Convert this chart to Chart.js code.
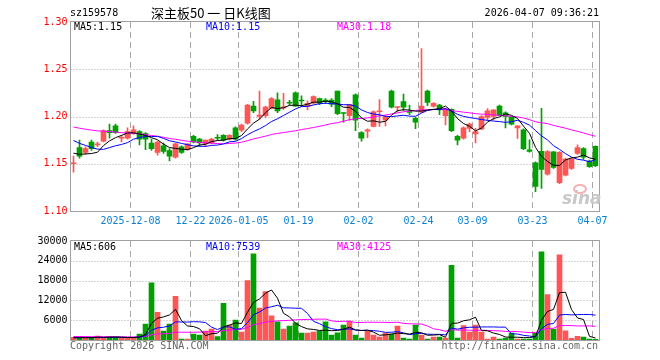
<!DOCTYPE html>
<html>
<head>
<meta charset="utf-8">
<title>sz159578 日K线图</title>
<script src="https://cdn.jsdelivr.net/npm/chart.js@4.4.1/dist/chart.umd.min.js"></script>
<style>
  html, body { margin: 0; padding: 0; background: #fff; }
  #wrap { position: relative; width: 660px; height: 360px; }
  #kline { position: absolute; left: 0; top: 0; }
  #volume { position: absolute; left: 0; top: 232px; }
</style>
</head>
<body>
<div id="wrap">
  <canvas id="kline" width="660" height="232"></canvas>
  <canvas id="volume" width="660" height="128"></canvas>
</div>
<script>
// trading days shown on the chart
const dates = [
  '2025-11-24', '2025-11-25', '2025-11-26', '2025-11-27', '2025-11-28',
  '2025-12-01', '2025-12-02', '2025-12-03', '2025-12-04', '2025-12-05',
  '2025-12-08', '2025-12-09', '2025-12-10', '2025-12-11', '2025-12-12',
  '2025-12-15', '2025-12-16', '2025-12-17', '2025-12-18', '2025-12-19',
  '2025-12-22', '2025-12-23', '2025-12-24', '2025-12-25', '2025-12-26',
  '2025-12-29', '2025-12-30', '2025-12-31',
  '2026-01-05', '2026-01-06', '2026-01-07', '2026-01-08', '2026-01-09',
  '2026-01-12', '2026-01-13', '2026-01-14', '2026-01-15', '2026-01-16',
  '2026-01-19', '2026-01-20', '2026-01-21', '2026-01-22', '2026-01-23',
  '2026-01-26', '2026-01-27', '2026-01-28', '2026-01-29', '2026-01-30',
  '2026-02-02', '2026-02-03', '2026-02-04', '2026-02-05', '2026-02-06',
  '2026-02-09', '2026-02-10', '2026-02-11', '2026-02-12', '2026-02-13',
  '2026-02-24', '2026-02-25', '2026-02-26', '2026-02-27',
  '2026-03-02', '2026-03-03', '2026-03-04', '2026-03-05', '2026-03-06',
  '2026-03-09', '2026-03-10', '2026-03-11', '2026-03-12', '2026-03-13',
  '2026-03-16', '2026-03-17', '2026-03-18', '2026-03-19', '2026-03-20',
  '2026-03-23', '2026-03-24', '2026-03-25', '2026-03-26', '2026-03-27',
  '2026-03-30', '2026-03-31', '2026-04-01', '2026-04-02', '2026-04-03',
  '2026-04-07'
];

const opens = [
  1.150, 1.167, 1.162, 1.173, 1.170, 1.174, 1.185, 1.190, 1.177, 1.177,
  1.182, 1.184, 1.182, 1.172, 1.162, 1.169, 1.164, 1.157, 1.168, 1.165,
  1.179, 1.176, 1.171, 1.172, 1.1775, 1.180, 1.176, 1.188, 1.1855, 1.193,
  1.211, 1.200, 1.201, 1.2086, 1.2176, 1.209, 1.2145, 1.225, 1.2167, 1.2107,
  1.214, 1.219, 1.2166, 1.2175, 1.227, 1.2035, 1.201, 1.223, 1.183, 1.1846,
  1.1895, 1.205, 1.196, 1.227, 1.2095, 1.2157, 1.2047, 1.198, 1.2045, 1.227,
  1.211, 1.212, 1.201, 1.2075, 1.179, 1.177, 1.1875, 1.1816, 1.1865, 1.199,
  1.200, 1.211, 1.204, 1.1997, 1.188, 1.186, 1.1646, 1.151, 1.1632, 1.139,
  1.1625, 1.130, 1.138, 1.145, 1.161, 1.166, 1.1528, 1.1684
];
const highs = [
  1.158, 1.175, 1.168, 1.175, 1.173, 1.186, 1.192, 1.192, 1.180, 1.188,
  1.190, 1.185, 1.183, 1.176, 1.174, 1.172, 1.166, 1.172, 1.169, 1.171,
  1.180, 1.177, 1.175, 1.177, 1.181, 1.181, 1.181, 1.189, 1.192, 1.213,
  1.216, 1.227, 1.211, 1.220, 1.225, 1.2245, 1.217, 1.226, 1.222, 1.2165,
  1.222, 1.2195, 1.219, 1.219, 1.227, 1.2038, 1.213, 1.224, 1.184, 1.187,
  1.206, 1.2178, 1.201, 1.228, 1.2105, 1.2238, 1.2122, 1.199, 1.272, 1.228,
  1.2147, 1.213, 1.209, 1.208, 1.180, 1.189, 1.193, 1.1875, 1.201, 1.2083,
  1.207, 1.212, 1.205, 1.200, 1.190, 1.187, 1.1753, 1.152, 1.2087, 1.164,
  1.163, 1.163, 1.156, 1.156, 1.170, 1.167, 1.154, 1.169
];
const lows = [
  1.141, 1.156, 1.160, 1.164, 1.168, 1.173, 1.177, 1.182, 1.173, 1.176,
  1.181, 1.170, 1.165, 1.164, 1.159, 1.161, 1.153, 1.156, 1.161, 1.164,
  1.172, 1.169, 1.168, 1.171, 1.175, 1.174, 1.175, 1.175, 1.184, 1.192,
  1.204, 1.197, 1.199, 1.208, 1.204, 1.2075, 1.212, 1.211, 1.211, 1.207,
  1.213, 1.2125, 1.2135, 1.2105, 1.202, 1.194, 1.1958, 1.185, 1.174, 1.1776,
  1.189, 1.1895, 1.190, 1.209, 1.2045, 1.2063, 1.202, 1.187, 1.204, 1.2115,
  1.210, 1.202, 1.191, 1.184, 1.170, 1.176, 1.184, 1.172, 1.186, 1.196,
  1.1965, 1.201, 1.188, 1.191, 1.1767, 1.165, 1.1622, 1.1205, 1.124, 1.138,
  1.145, 1.129, 1.137, 1.144, 1.160, 1.1545, 1.146, 1.147
];
const closes = [
  1.151, 1.158, 1.166, 1.166, 1.171, 1.185, 1.183, 1.183, 1.178, 1.184,
  1.186, 1.176, 1.176, 1.166, 1.173, 1.163, 1.158, 1.171, 1.162, 1.171,
  1.173, 1.172, 1.175, 1.176, 1.177, 1.175, 1.180, 1.176, 1.191, 1.212,
  1.206, 1.2014, 1.210, 1.219, 1.206, 1.2103, 1.214, 1.211, 1.2164, 1.214,
  1.221, 1.214, 1.2162, 1.213, 1.203, 1.2032, 1.213, 1.196, 1.177, 1.186,
  1.205, 1.2056, 1.200, 1.210, 1.2098, 1.210, 1.2043, 1.194, 1.211, 1.215,
  1.214, 1.207, 1.208, 1.185, 1.175, 1.188, 1.192, 1.184, 1.200, 1.206,
  1.207, 1.201, 1.200, 1.192, 1.190, 1.166, 1.163, 1.126, 1.144, 1.163,
  1.146, 1.162, 1.155, 1.155, 1.167, 1.157, 1.147, 1.148
];

// moving average lines
const ma5 = [
  1.1612, 1.1600, 1.1604, 1.1608, 1.1622, 1.1692, 1.1742, 1.1776, 1.1800, 1.1826,
  1.1828, 1.1814, 1.1800, 1.1776, 1.1754, 1.1708, 1.1672, 1.1662, 1.1654, 1.1650,
  1.1670, 1.1698, 1.1706, 1.1734, 1.1746, 1.1750, 1.1766, 1.1768, 1.1798, 1.1868,
  1.1930, 1.1972, 1.2040, 1.2096, 1.2084, 1.2092, 1.2118, 1.2120, 1.2114, 1.2130,
  1.2152, 1.2152, 1.2162, 1.2156, 1.2134, 1.2098, 1.2096, 1.2056, 1.1984, 1.1950,
  1.1954, 1.1940, 1.1948, 1.2014, 1.2062, 1.2072, 1.2068, 1.2056, 1.2058, 1.2068,
  1.2076, 1.2082, 1.2110, 1.2058, 1.1978, 1.1926, 1.1896, 1.1848, 1.1878, 1.1940,
  1.1978, 1.1996, 1.2028, 1.2012, 1.1980, 1.1898, 1.1822, 1.1674, 1.1578, 1.1524,
  1.1484, 1.1482, 1.1540, 1.1562, 1.1570, 1.1592, 1.1562, 1.1548
];
const ma10 = [
  1.1746, 1.1716, 1.1694, 1.1672, 1.1655, 1.1652, 1.1671, 1.1690, 1.1704, 1.1724,
  1.1760, 1.1778, 1.1788, 1.1788, 1.1790, 1.1768, 1.1743, 1.1731, 1.1715, 1.1702,
  1.1689, 1.1685, 1.1684, 1.1694, 1.1698, 1.1710, 1.1732, 1.1737, 1.1766, 1.1807,
  1.1840, 1.1869, 1.1904, 1.1947, 1.1976, 1.2011, 1.2045, 1.2080, 1.2105, 1.2107,
  1.2122, 1.2135, 1.2141, 1.2135, 1.2132, 1.2125, 1.2124, 1.2109, 1.2070, 1.2042,
  1.2026, 1.2018, 1.2002, 1.1999, 1.2006, 1.2013, 1.2004, 1.2002, 1.2036, 1.2065,
  1.2074, 1.2075, 1.2083, 1.2058, 1.2023, 1.2001, 1.1989, 1.1979, 1.1968, 1.1959,
  1.1952, 1.1946, 1.1938, 1.1945, 1.1960, 1.1938, 1.1909, 1.1851, 1.1795, 1.1752,
  1.1691, 1.1652, 1.1607, 1.1570, 1.1547, 1.1538, 1.1522, 1.1544
];
const ma30 = [
  1.1889, 1.1876, 1.1866, 1.1856, 1.1848, 1.1844, 1.1840, 1.1835, 1.1829, 1.1825,
  1.1822, 1.1815, 1.1809, 1.1799, 1.1791, 1.1780, 1.1767, 1.1759, 1.1748, 1.1739,
  1.1732, 1.1726, 1.1722, 1.1718, 1.1714, 1.1710, 1.1715, 1.1719, 1.1728, 1.1744,
  1.1763, 1.1777, 1.1792, 1.1810, 1.1821, 1.1830, 1.1840, 1.1849, 1.1862, 1.1872,
  1.1884, 1.1896, 1.1910, 1.1925, 1.1935, 1.1949, 1.1967, 1.1975, 1.1980, 1.1985,
  1.1996, 1.2007, 1.2016, 1.2027, 1.2038, 1.2050, 1.2058, 1.2064, 1.2070, 1.2071,
  1.2074, 1.2076, 1.2075, 1.2064, 1.2054, 1.2046, 1.2039, 1.2030, 1.2025, 1.2022,
  1.2017, 1.2013, 1.2008, 1.2001, 1.1996, 1.1984, 1.1967, 1.1944, 1.1933, 1.1925,
  1.1906, 1.1891, 1.1876, 1.1858, 1.1843, 1.1826, 1.1807, 1.1791
];

const volumes = [
  800, 900, 600, 700, 1200, 700, 1000, 900, 500, 600,
  700, 1800, 4800, 17300, 8400, 2700, 4800, 13200, 300, 300,
  1800, 1500, 2700, 3300, 1000, 11100, 4500, 6000, 2400, 18000,
  26100, 9700, 14700, 7300, 5500, 3300, 4200, 5200, 2100, 2100,
  2400, 2700, 5500, 1500, 2200, 4500, 5700, 1500, 600, 2700,
  1500, 900, 2100, 1800, 4200, 600, 300, 4500, 1500, 300,
  900, 900, 600, 22600, 600, 4400, 2400, 4500, 2400, 300,
  900, 300, 600, 2100, 300, 300, 300, 2200, 26700, 13800,
  3300, 25800, 2760, 500, 1100, 900, 300, 230
];
const volMa5 = [
  640, 700, 700, 720, 840, 820, 840, 900, 860, 740,
  740, 900, 1680, 5040, 6600, 7000, 7600, 9280, 5880, 4260,
  4080, 3420, 1320, 1920, 2060, 3920, 4520, 5180, 5000, 8400,
  11400, 12440, 14180, 15160, 12660, 8100, 7000, 5100, 4060, 3380,
  3200, 2900, 2960, 2840, 2860, 3280, 3880, 3080, 2900, 3000,
  2400, 1440, 1560, 1800, 2100, 1920, 1800, 2280, 2220, 1440,
  1500, 1620, 840, 5060, 5120, 5820, 6120, 6900, 2860, 2800,
  2100, 1680, 900, 840, 840, 720, 720, 1040, 5960, 8660,
  9260, 14360, 14470, 9230, 6690, 6210, 1110, 606
];
const volMa10 = [
  770, 770, 740, 720, 750, 730, 770, 800, 790, 790,
  780, 870, 1290, 2950, 3670, 3870, 4250, 5480, 5460, 5430,
  5540, 5510, 5300, 3900, 3160, 4000, 3970, 3250, 3460, 5230,
  7660, 8480, 9680, 10080, 10530, 9750, 9720, 9640, 9610, 8020,
  5650, 4950, 4030, 3450, 3120, 3240, 3390, 3020, 2870, 2930,
  2840, 2660, 2320, 2350, 2550, 2160, 1620, 1920, 2010, 1770,
  1710, 1710, 1560, 3640, 3280, 3660, 3870, 3870, 3960, 3960,
  3960, 3900, 3900, 1850, 1820, 1410, 1200, 970, 3400, 4750,
  4990, 7540, 7760, 7600, 7680, 7740, 7740, 7539
];
const volMa30 = [
  1060, 1050, 1030, 1010, 1010, 990, 990, 980, 950, 930,
  920, 940, 1060, 1590, 1830, 1880, 2000, 2400, 2370, 2340,
  2360, 2380, 2440, 2520, 2530, 2870, 3000, 3180, 3240, 3820,
  4660, 4950, 5420, 5640, 5790, 5870, 5980, 6120, 6180, 6230,
  6280, 6310, 6340, 5810, 5600, 5660, 5690, 5300, 5310, 5390,
  5380, 5360, 5340, 5290, 5400, 5050, 4910, 4860, 4830, 4240,
  3400, 3110, 2640, 3150, 2980, 3020, 2960, 2940, 2950, 2890,
  2840, 2760, 2590, 2610, 2550, 2410, 2230, 2250, 3120, 3490,
  3550, 4380, 4410, 4360, 4260, 4270, 4270, 4125
];

// axis ticks
const priceTicks = [1.10, 1.15, 1.20, 1.25, 1.30];
const volumeTicks = [0, 6000, 12000, 18000, 24000, 30000];
const tickDates = ['2025-12-08', '2025-12-22', '2026-01-05', '2026-01-19', '2026-02-02',
  '2026-02-24', '2026-03-09', '2026-03-23', '2026-04-07'];
const tickLabels = ['2025-12-08', '12-22', '2026-01-05', '01-19', '02-02',
  '02-24', '03-09', '03-23', '04-07'];

const MONO = '"DejaVu Sans Mono", "Liberation Mono", monospace';
const RED = '#ff5555';
const GREEN = '#00a000';
const candleColors = closes.map((c, i) => (c >= opens[i] ? RED : GREEN));

// edge of the day slot, where sina draws its dashed date lines
function slotEdge(chart, idx) {
  const a = chart.chartArea;
  const half = (a.right - a.left) / dates.length / 2;
  return Math.floor(chart.scales.x.getPixelForValue(idx) - half) + 0.5;
}

// dotted price/volume levels, dashed date lines and the grey frame
const panelGrid = {
  id: 'panelGrid',
  beforeDatasetsDraw(chart, args, opts) {
    const { ctx, chartArea: a, scales: { y } } = chart;
    ctx.save();
    ctx.lineWidth = 1;
    ctx.strokeStyle = '#a8a8a8';
    ctx.setLineDash([1, 2]);
    opts.levels.forEach(v => {
      const py = Math.round(y.getPixelForValue(v)) + 0.5;
      ctx.beginPath();
      ctx.moveTo(a.left, py);
      ctx.lineTo(a.right, py);
      ctx.stroke();
    });
    ctx.setLineDash([6, 4]);
    tickDates.forEach(d => {
      const px = slotEdge(chart, dates.indexOf(d));
      ctx.beginPath();
      ctx.moveTo(px, a.top);
      ctx.lineTo(px, a.bottom + 1);
      ctx.stroke();
    });
    ctx.restore();
  },
  afterDatasetsDraw(chart) {
    const { ctx, chartArea: a } = chart;
    ctx.save();
    ctx.strokeStyle = '#a0a0a0';
    ctx.lineWidth = 1;
    const x0 = Math.floor(a.left) + 0.5;
    const x1 = Math.ceil(a.right) + 0.5;
    const y0 = Math.round(a.top) - 0.5;
    const y1 = Math.round(a.bottom) + 0.5;
    ctx.strokeRect(x0, y0, x1 - x0, y1 - y0);
    ctx.restore();
  }
};

function drawLegend(ctx, y, items) {
  ctx.font = '10px ' + MONO;
  ctx.textBaseline = 'middle';
  ctx.textAlign = 'left';
  items.forEach(([text, color, x]) => {
    ctx.fillStyle = color;
    ctx.fillText(text, x, y);
  });
}

const klineText = {
  id: 'klineText',
  afterDraw(chart) {
    const ctx = chart.ctx;
    ctx.save();
    ctx.font = '10px ' + MONO;
    ctx.textBaseline = 'middle';
    ctx.fillStyle = '#000';
    ctx.textAlign = 'left';
    ctx.fillText('sz159578', 70, 13);
    ctx.textAlign = 'right';
    ctx.fillText('2026-04-07 09:36:21', 599, 13);
    ctx.textAlign = 'left';
    ctx.font = '13px "Noto Sans CJK SC", sans-serif';
    ctx.fillText('深主板50 一 日K线图', 151, 13);

    drawLegend(ctx, 27, [
      ['MA5:' + ma5[ma5.length - 1].toFixed(2), '#000000', 74],
      ['MA10:' + ma10[ma10.length - 1].toFixed(2), '#0000ff', 206],
      ['MA30:' + ma30[ma30.length - 1].toFixed(2), '#ff00ff', 337]
    ]);

    // date labels under the price panel
    ctx.font = '10px ' + MONO;
    ctx.fillStyle = '#0a7fd4';
    ctx.textAlign = 'center';
    tickDates.forEach((d, k) => {
      ctx.fillText(tickLabels[k], slotEdge(chart, dates.indexOf(d)), 221);
    });

    // faint sina mark
    ctx.strokeStyle = '#f3b3b3';
    ctx.lineWidth = 2;
    ctx.beginPath();
    ctx.ellipse(580, 189, 6, 4, 0, 0, Math.PI * 2);
    ctx.stroke();
    ctx.fillStyle = '#c8c8c8';
    ctx.textAlign = 'left';
    ctx.font = 'italic bold 17px "DejaVu Sans", sans-serif';
    ctx.fillText('sina', 562, 200);
    ctx.restore();
  }
};

const volumeText = {
  id: 'volumeText',
  afterDraw(chart) {
    const ctx = chart.ctx;
    ctx.save();
    drawLegend(ctx, 15, [
      ['MA5:' + volMa5[volMa5.length - 1], '#000000', 74],
      ['MA10:' + volMa10[volMa10.length - 1], '#0000ff', 206],
      ['MA30:' + volMa30[volMa30.length - 1], '#ff00ff', 337]
    ]);
    ctx.fillStyle = '#666666';
    ctx.textAlign = 'left';
    ctx.fillText('Copyright 2026 SINA.COM', 70, 114);
    ctx.textAlign = 'right';
    ctx.fillText('http://finance.sina.com.cn', 598, 114);
    ctx.restore();
  }
};

function maLine(data, color) {
  return {
    type: 'line', data: data, borderColor: color, borderWidth: 1,
    pointRadius: 0, tension: 0, fill: false, order: 0
  };
}

function yAxis(min, max, ticks, color, fmt) {
  return {
    min: min, max: max,
    afterBuildTicks: s => { s.ticks = ticks.map(v => ({ value: v })); },
    afterFit: s => { s.width = 70; },
    grid: { display: false, drawTicks: false },
    border: { display: false },
    ticks: { color: color, padding: 3, font: { family: MONO, size: 10 }, callback: fmt }
  };
}

Chart.defaults.font.family = MONO;

new Chart(document.getElementById('kline'), {
  type: 'bar',
  data: {
    labels: dates,
    datasets: [
      maLine(ma5, '#000000'),
      maLine(ma10, '#0000ff'),
      maLine(ma30, '#ff00ff'),
      {
        data: lows.map((l, i) => [l, highs[i]]),
        backgroundColor: candleColors, barThickness: 1, grouped: false, order: 2
      },
      {
        data: opens.map((o, i) => [o, closes[i]]),
        backgroundColor: candleColors, barThickness: 5, minBarLength: 1, grouped: false, order: 1
      }
    ]
  },
  options: {
    responsive: false,
    animation: false,
    devicePixelRatio: 1,
    layout: { padding: { left: 0.5, right: 61.5, top: 22, bottom: 21 } },
    plugins: {
      legend: { display: false },
      tooltip: { enabled: false },
      panelGrid: { levels: [1.15, 1.20, 1.25] }
    },
    scales: {
      x: { display: false, offset: true },
      y: yAxis(1.10, 1.30, priceTicks, '#ff0000', v => v.toFixed(2))
    }
  },
  plugins: [panelGrid, klineText]
});

new Chart(document.getElementById('volume'), {
  type: 'bar',
  data: {
    labels: dates,
    datasets: [
      maLine(volMa5, '#000000'),
      maLine(volMa10, '#0000ff'),
      maLine(volMa30, '#ff00ff'),
      {
        data: volumes, backgroundColor: candleColors, barThickness: 5, grouped: false, order: 1
      }
    ]
  },
  options: {
    responsive: false,
    animation: false,
    devicePixelRatio: 1,
    layout: { padding: { left: 0.5, right: 61.5, top: 8, bottom: 20 } },
    plugins: {
      legend: { display: false },
      tooltip: { enabled: false },
      panelGrid: { levels: [6000, 12000, 18000, 24000] }
    },
    scales: {
      x: { display: false, offset: true },
      y: yAxis(0, 30000, volumeTicks, '#000000', v => (v === 0 ? '' : String(v)))
    }
  },
  plugins: [panelGrid, volumeText]
});
</script>
</body>
</html>
